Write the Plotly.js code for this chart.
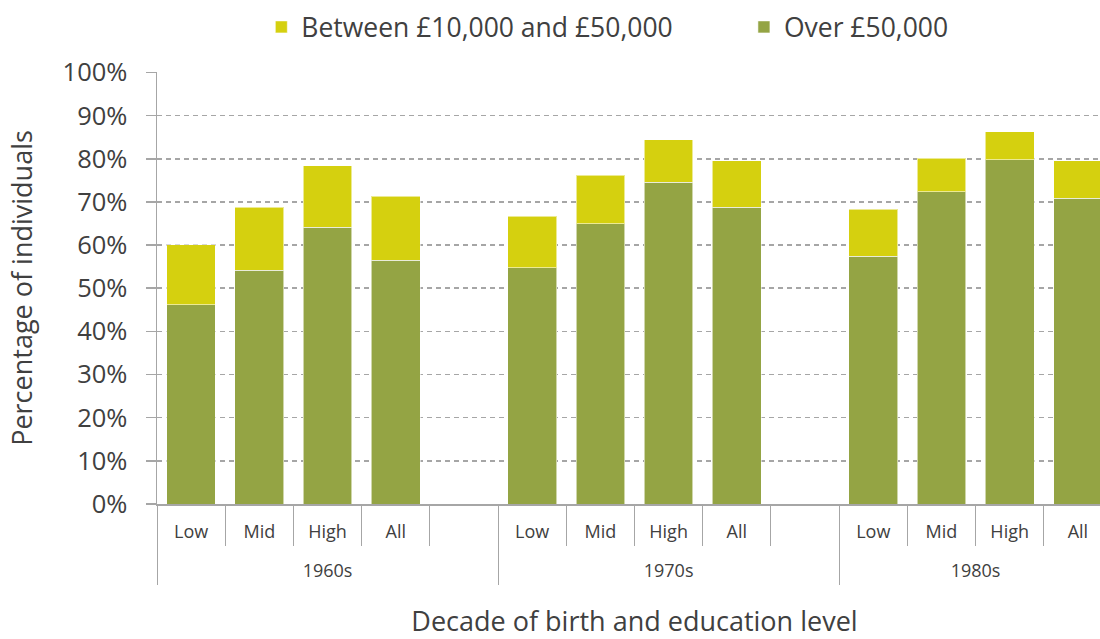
<!DOCTYPE html>
<html>
<head>
<meta charset="utf-8">
<script src="https://cdn.plot.ly/plotly-3.0.1.min.js"></script>
<style>
  html, body { margin: 0; padding: 0; overflow: hidden; background: #fff; }
  #chart { width: 1112px; height: 639px; }
</style>
</head>
<body>
<div id="chart"></div>
<script>
const decades = ["1960s", "1970s", "1980s"];
const levels = ["Low", "Mid", "High", "All"];
const seriesNames = ["Between £10,000 and £50,000", "Over £50,000"];
// Percentage of individuals, per decade, in order Low, Mid, High, All
const over50k = {
  "1960s": [46.2, 54.2, 64.1, 56.5],
  "1970s": [54.7, 64.9, 74.5, 68.8],
  "1980s": [57.4, 72.4, 79.8, 70.8]
};
const between10k50k = {
  "1960s": [13.9, 14.6, 14.3, 14.8],
  "1970s": [12.0, 11.3, 9.9, 10.7],
  "1980s": [10.9, 7.7, 6.4, 8.7]
};
const colors = { between: "#D5D00F", over: "#94A444" };

// Slot layout: each decade takes one slot per level plus an empty slot after it
const slotsPerGroup = levels.length + 1;
const xPos = [], xText = [], yOver = [], yBetween = [];
const groupCenters = [], groupEdges = [], slotEdges = [];
decades.forEach((d, di) => {
  const start = di * slotsPerGroup;
  groupEdges.push(start - 0.5);
  levels.forEach((l, li) => {
    xPos.push(start + li); xText.push(l);
    yOver.push(over50k[d][li]);
    yBetween.push(between10k50k[d][li]);
  });
  groupCenters.push(start + (levels.length - 1) / 2 + (di < decades.length - 1 ? 0.5 : 0));
  const nSlots = di < decades.length - 1 ? slotsPerGroup : levels.length;
  for (let k = 0; k <= nSlots; k++) slotEdges.push(start - 0.5 + k);
});
const xEnd = (decades.length - 1) * slotsPerGroup + levels.length - 0.5;
groupEdges.push(xEnd);

const textColor = "#404040";
const axisGray = "#A6A6A6";
const barLine = { color: "rgba(255,255,255,0.55)", width: 1 };

const traces = [
  {
    type: "bar", name: seriesNames[1], x: xPos, y: yOver,
    marker: { color: colors.over, line: barLine }, legend: "legend2"
  },
  {
    type: "bar", name: seriesNames[0], x: xPos, y: yBetween,
    marker: { color: colors.between, line: barLine }, legend: "legend"
  },
  { type: "scatter", x: [], y: [], xaxis: "x2", showlegend: false, hoverinfo: "skip" }
];

const legendCommon = {
  orientation: "h", xref: "container", yref: "container",
  y: 0.995, xanchor: "left", yanchor: "top",
  font: { size: 26.5, color: textColor }
};

const layout = {
  width: 1112, height: 639,
  margin: { l: 157, r: 0, t: 72, b: 135, autoexpand: false },
  paper_bgcolor: "#fff", plot_bgcolor: "#fff",
  font: { family: "Open Sans, Noto Sans, sans-serif", color: textColor },
  barmode: "stack",
  bargap: 0.286,
  showlegend: true,
  legend: Object.assign({}, legendCommon, { x: 0.235 }),
  legend2: Object.assign({}, legendCommon, { x: 0.669 }),
  xaxis: {
    range: [-0.5, xEnd],
    showline: true, linecolor: axisGray, linewidth: 1.5,
    tickmode: "array", tickvals: xPos, ticktext: xText, ticks: "",
    minor: { tickmode: "array", tickvals: slotEdges, ticks: "outside", ticklen: 40,
             tickcolor: axisGray, tickwidth: 1, showgrid: false },
    ticklabelstandoff: 11,
    tickfont: { size: 18, color: textColor },
    showgrid: false, zeroline: false,
    title: { text: "Decade of birth and education level", font: { size: 27, color: textColor }, standoff: 74 }
  },
  xaxis2: {
    overlaying: "x", anchor: "y", side: "bottom",
    range: [-0.5, xEnd],
    showline: false,
    tickmode: "array", tickvals: groupCenters, ticktext: decades, ticks: "",
    minor: { tickmode: "array", tickvals: groupEdges, ticks: "outside", ticklen: 80,
             tickcolor: axisGray, tickwidth: 1, showgrid: false },
    ticklabelstandoff: 54,
    tickfont: { size: 18, color: textColor },
    showgrid: false, zeroline: false
  },
  yaxis: {
    range: [0, 100.1], dtick: 10, ticksuffix: "%",
    showline: true, linecolor: axisGray, linewidth: 1.5,
    ticks: "outside", ticklen: 10, tickcolor: axisGray, tickwidth: 1.5,
    ticklabelstandoff: 13,
    showgrid: true, gridcolor: axisGray, gridwidth: 1.5, griddash: "5px,4px",
    zeroline: false,
    tickfont: { size: 25.5, color: textColor },
    title: { text: "Percentage of individuals", font: { size: 27, color: textColor }, standoff: 22 }
  }
};

Plotly.newPlot("chart", traces, layout, { displayModeBar: false, staticPlot: true });
</script>
</body>
</html>
